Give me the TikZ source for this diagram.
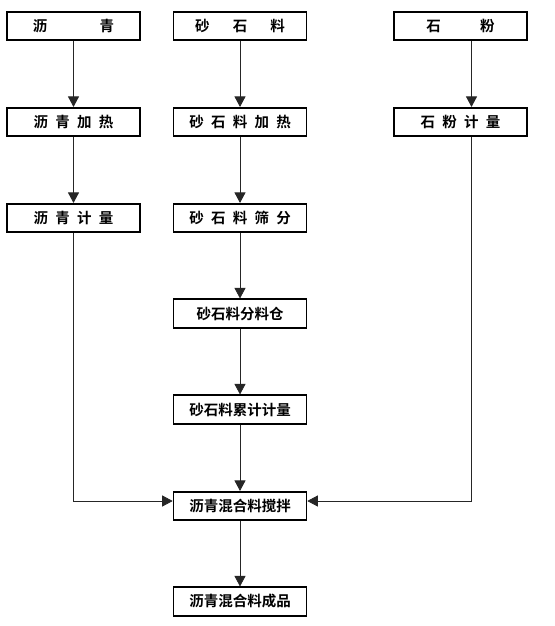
\documentclass[tikz,border=0pt]{standalone}
\usepackage{fontspec}
\setmainfont{Noto Sans CJK SC}[BoldFont={Noto Sans CJK SC Bold}]
\usetikzlibrary{arrows.meta,positioning}
\tikzset{
  stage/.style={draw=black, line width=1.6pt, align=center, fill=white, inner sep=0pt, minimum width=133pt, minimum height=28.5pt, font=\bfseries\fontsize{14.5}{16}\selectfont},
  arrow/.style={-{Triangle[length=10.5pt, width=11pt]}, line width=0.8pt, draw=black!85}
}

\begin{document}
\begin{tikzpicture}[x=1pt, y=-1pt]
  \useasboundingbox (0,0) rectangle (554,626);

  % raw material row
  \node[stage] (lq) at (73.5,26) {沥\hspace{3.6em}青};
  \node[stage] (ssl) at (240,26) {砂\hspace{1.6em}石\hspace{1.6em}料};
  \node[stage] (sf) at (460.5,26) {石\hspace{2.7em}粉};

  \node[stage] (lqjr) at (73.5,122) {沥\hspace{0.5em}青\hspace{0.5em}加\hspace{0.5em}热};
  \node[stage] (ssljr) at (240,122) {砂\hspace{0.5em}石\hspace{0.5em}料\hspace{0.5em}加\hspace{0.5em}热};
  \node[stage] (sfjl) at (460.5,122) {石\hspace{0.5em}粉\hspace{0.5em}计\hspace{0.5em}量};

  \node[stage] (lqjl) at (73.5,218) {沥\hspace{0.5em}青\hspace{0.5em}计\hspace{0.5em}量};
  \node[stage] (sslsf) at (240,218) {砂\hspace{0.5em}石\hspace{0.5em}料\hspace{0.5em}筛\hspace{0.5em}分};

  \node[stage] (sslfc) at (240,313.5) {砂石料分料仓};
  \node[stage] (ssllj) at (240,409.5) {砂石料累计计量};
  \node[stage] (mix) at (240,506) {沥青混合料搅拌};
  \node[stage] (cp) at (240,601.5) {沥青混合料成品};

  \draw[arrow] (lq) -- (lqjr);
  \draw[arrow] (lqjr) -- (lqjl);
  \draw[arrow] (ssl) -- (ssljr);
  \draw[arrow] (ssljr) -- (sslsf);
  \draw[arrow] (sslsf) -- (sslfc);
  \draw[arrow] (sslfc) -- (ssllj);
  \draw[arrow] (ssllj) -- (mix);
  \draw[arrow] (mix) -- (cp);
  \draw[arrow] ([xshift=11pt]sf.south) -- ([xshift=11pt]sfjl.north);

  \draw[arrow] (lqjl.south) |- ([yshift=5pt]mix.west);
  \draw[arrow] ([xshift=11pt]sfjl.south) |- ([yshift=5pt]mix.east);
\end{tikzpicture}
\end{document}
